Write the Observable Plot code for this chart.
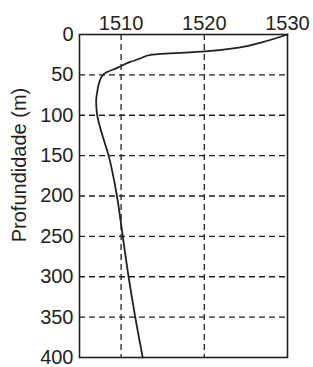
<!DOCTYPE html>
<html>
<head>
<meta charset="utf-8">
<script src="https://cdn.jsdelivr.net/npm/d3@7"></script>
<script src="https://cdn.jsdelivr.net/npm/@observablehq/plot@0.6"></script>
<style>
  html, body { margin: 0; padding: 0; background: #fff; }
</style>
</head>
<body>
<div id="chart"></div>
<script>
const depth = [0, 10, 16, 21, 25, 30, 34, 41, 49, 60, 70, 82, 98, 123, 150, 200, 250, 300, 350, 400];
const speed = [1530, 1526.8, 1524.3, 1520.1, 1513.7, 1512.2, 1511.1, 1509.6, 1507.9, 1507.35, 1507.15, 1507.0, 1507.1, 1507.7, 1508.5, 1509.5, 1510.2, 1510.9, 1511.7, 1512.6];
const xTicks = [1510, 1520, 1530];
const yTicks = [0, 50, 100, 150, 200, 250, 300, 350, 400];
const xGrid = [1510, 1520];
const yGrid = [50, 100, 150, 200, 250, 300, 350];
const yLabel = "Profundidade (m)";

const profile = depth.map((d, i) => ({depth: d, speed: speed[i]}));

const chart = Plot.plot({
  width: 313,
  height: 367,
  marginLeft: 79,
  marginRight: 26,
  marginTop: 34,
  marginBottom: 10,
  style: {fontFamily: "'Liberation Sans', Arial, sans-serif", fontSize: "20px", color: "#231f20", background: "#fff"},
  x: {domain: [1505, 1530]},
  y: {domain: [0, 400], reverse: true},
  marks: [
    Plot.ruleX(xGrid, {stroke: "#231f20", strokeWidth: 1.3, strokeDasharray: "6,4"}),
    Plot.ruleY(yGrid, {stroke: "#231f20", strokeWidth: 1.3, strokeDasharray: "6,4"}),
    Plot.axisX({anchor: "top", ticks: xTicks, tickFormat: d => String(d), tickSize: 0, tickPadding: 5, label: null, fontSize: 20}),
    Plot.axisY({ticks: yTicks, tickFormat: d => String(d), tickSize: 0, tickPadding: 6, label: yLabel, labelArrow: "none", labelAnchor: "center", labelOffset: 68, fontSize: 20}),
    Plot.line(profile, {x: "speed", y: "depth", curve: "monotone-y", stroke: "#231f20", strokeWidth: 1.8}),
    Plot.frame({stroke: "#231f20", strokeWidth: 1.6})
  ]
});
document.getElementById("chart").appendChild(chart);
// shift the y-axis label upward as in the reference
d3.select(chart).selectAll("[aria-label='y-axis label'] text").attr("dx", "31");
</script>
</body>
</html>
